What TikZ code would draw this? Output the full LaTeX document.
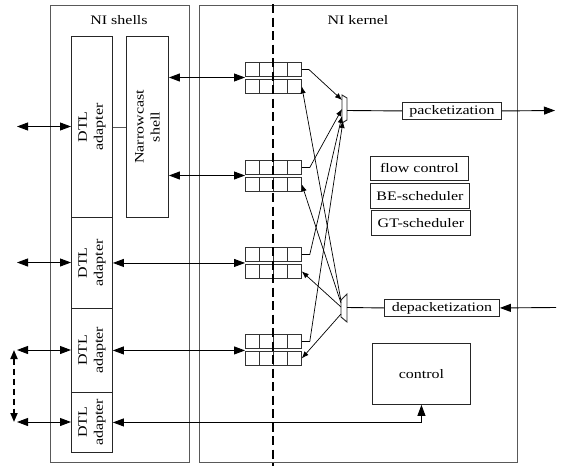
\documentclass[tikz,border=0pt]{standalone}
\usepackage{fontspec}
\setmainfont[FakeStretch=1.23]{Liberation Serif}
\usetikzlibrary{arrows.meta}
\tikzset{
  outerbox/.style={draw=black!65, line width=1.1pt, inner sep=0pt, anchor=north west},
  box/.style={draw=black!85, line width=0.9pt, inner sep=0pt, anchor=north west},
  qrow/.style={draw=black!80, line width=0.8pt, inner sep=0pt, anchor=north west, minimum width=56pt, minimum height=14pt},
  cellline/.style={draw=black!80, line width=0.8pt},
  lbl/.style={inner sep=0pt},
  conn/.style={draw=black, line width=0.9pt},
  bigtwo/.style={conn, {Triangle[length=11pt,width=8pt]}-{Triangle[length=11pt,width=8pt]}},
  bigone/.style={conn, -{Triangle[length=11pt,width=8pt]}},
  smallone/.style={conn, line width=0.7pt, -{Latex[length=7pt,width=5.5pt]}},
  kdash/.style={draw=black, line width=2.4pt, dash pattern=on 9pt off 4.5pt},
  vdash/.style={draw=black, line width=1.8pt, dash pattern=on 6pt off 4pt, {Triangle[length=9pt,width=7pt]}-{Triangle[length=9pt,width=7pt]}},
  muxshape/.style={draw=black!85, line width=0.9pt, fill=white},
}
\newcommand{\qpair}[2]{%
  \node[qrow] (#1t) at (245,#2) {};
  \node[qrow] (#1b) at (245,#2+17) {};
  \foreach \cx in {259,273,287} {
    \draw[cellline] (\cx,#2) -- (\cx,#2+14);
    \draw[cellline] (\cx,#2+17) -- (\cx,#2+31);
  }
}
\begin{document}
\begin{tikzpicture}[x=1pt,y=-1pt,font=\fontsize{13}{16}\selectfont]
\useasboundingbox (0,0) rectangle (563,466);

% outer boxes
\node[outerbox, minimum width=139pt, minimum height=457pt] (shells) at (50,5) {};
\node[lbl] (shellst) at (119,20) {NI shells};
\node[outerbox, minimum width=318pt, minimum height=457pt] (kernel) at (199,5) {};
\node[lbl] (kernelt) at (358,20) {NI kernel};

% DTL adapters and narrowcast shell
\node[box, minimum width=41pt, minimum height=181pt] (a1) at (71,36) {};
\node[lbl, rotate=90, align=center] (a1t) at (a1.center) {DTL\\adapter};
\node[box, minimum width=41pt, minimum height=91pt] (a2) at (71,217) {};
\node[lbl, rotate=90, align=center] (a2t) at (a2.center) {DTL\\adapter};
\node[box, minimum width=41pt, minimum height=84pt] (a3) at (71,308) {};
\node[lbl, rotate=90, align=center] (a3t) at (a3.center) {DTL\\adapter};
\node[box, minimum width=41pt, minimum height=60pt] (a4) at (71,392) {};
\node[lbl, rotate=90, align=center] (a4t) at (a4.center) {DTL\\adapter};
\node[box, minimum width=42pt, minimum height=181pt] (nc) at (126,36) {};
\node[lbl, rotate=90, align=center] (nct) at (nc.center) {Narrowcast\\shell};

% queues
\qpair{q1}{62}
\qpair{q2}{160}
\qpair{q3}{247}
\qpair{q4}{334}

% kernel boxes
\node[box, minimum width=99pt, minimum height=17pt] (pk) at (402,102) {};
\node[lbl] (pkt) at (pk.center) {packetization};
\node[box, minimum width=115pt, minimum height=17pt] (dp) at (384,299) {};
\node[lbl] (dpt) at (dp.center) {depacketization};
\node[box, minimum width=98pt, minimum height=24pt] (fc) at (370,156) {};
\node[lbl] (fct) at (fc.center) {flow control};
\node[box, minimum width=99pt, minimum height=25pt] (be) at (370,183) {};
\node[lbl] (bet) at (be.center) {BE-scheduler};
\node[box, minimum width=99pt, minimum height=25pt] (gt) at (371,210) {};
\node[lbl] (gtt) at (gt.center) {GT-scheduler};
\node[box, minimum width=98pt, minimum height=61pt] (ctrl) at (372,343) {};
\node[lbl] (ctrlt) at (ctrl.center) {control};

% mux / demux
\draw[muxshape] (342,95) -- (347,98) -- (347,120) -- (342,123) -- cycle;
\coordinate (m1a) at (342,100);
\coordinate (m1b) at (342,109);
\coordinate (m1c) at (342,116);
\coordinate (m1d) at (343,121);
\coordinate (m1o) at (347,110.5);
\draw[muxshape] (341,300) -- (347,294) -- (347,322) -- (341,317) -- cycle;
\coordinate (m2a) at (341,301);
\coordinate (m2b) at (341,303);
\coordinate (m2c) at (341,307);
\coordinate (m2d) at (341,314);
\coordinate (m2o) at (347,307.5);

% dashed boundary
\coordinate (dtop) at (273,4);
\coordinate (dbot) at (273,466);
\draw[kdash] (dtop) -- (dbot);

% left external arrows
\coordinate (l1) at (17,126.5);
\coordinate (l2) at (17,262.5);
\coordinate (l3) at (17,350);
\coordinate (l4) at (17,422);
\draw[bigtwo] (l1) -- (l1 -| a1.west);
\draw[bigtwo] (l2) -- (l2 -| a2.west);
\draw[bigtwo] (l3) -- (l3 -| a3.west);
\draw[bigtwo] (l4) -- (l4 -| a4.west);
\coordinate (v1) at (14,350);
\coordinate (v2) at (14,422);
\draw[vdash] (v1) -- (v2);

% shells to kernel
\draw[draw=black!65, line width=0.9pt] (a1.east) -- (a1.east -| nc.west);
\coordinate (q1in) at (245,77.5);
\coordinate (q2in) at (245,175.5);
\draw[bigtwo] (q1in -| nc.east) -- (q1in);
\draw[bigtwo] (q2in -| nc.east) -- (q2in);
\draw[bigtwo] (a2.east) -- (a2.east -| q3t.west);
\draw[bigtwo] (a3.east) -- (a3.east -| q4t.west);
\draw[bigtwo] (a4.east) -- (a4.east -| ctrl.south) -- (ctrl.south);

% queues to mux
\draw[smallone] (q1t.east) -- ++(7,0) -- (m1a);
\draw[smallone] (q2t.east) -- ++(8,0) -- (m1b);
\draw[smallone] (q3t.east) -- ++(8,0) -- (m1c);
\draw[smallone] (q4t.east) -- ++(8,0) -- (m1d);

% demux to queues
\draw[smallone] (m2a) -- (q1b.east);
\draw[smallone] (m2b) -- (q2b.east);
\draw[smallone] (m2c) -- (q3b.east);
\draw[smallone] (m2d) -- (q4b.east);

% packetization / depacketization
\coordinate (pkout) at (555,110.5);
\coordinate (dpin) at (556,307.5);
\draw[conn] (m1o) -- (pk.west);
\draw[bigone] (pk.east) -- (pkout);
\draw[bigone] (dpin) -- (dp.east);
\draw[conn] (dp.west) -- (m2o);
\end{tikzpicture}
\end{document}
